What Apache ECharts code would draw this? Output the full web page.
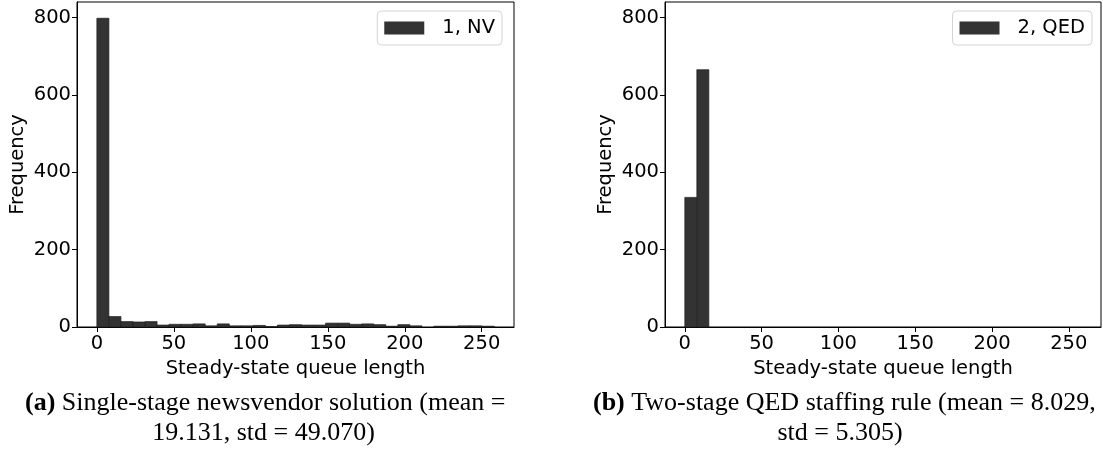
<!DOCTYPE html>
<html>
<head>
<meta charset="utf-8">
<script src="https://cdn.jsdelivr.net/npm/echarts@6/dist/echarts.min.js"></script>
<style>
  html, body { margin: 0; padding: 0; background: #fff; }
  #chart { width: 1103px; height: 457px; }
</style>
</head>
<body>
<div id="chart"></div>
<script>
// Shared histogram bins: 33 equal bins covering queue lengths 0..258
const binWidth = 7.82;
const binCount = 33;
const xTicks = [0, 50, 100, 150, 200, 250];
const yTicks = [0, 200, 400, 600, 800];

// Bin counts, single-stage newsvendor solution
const nvCounts = [798, 27, 14, 13, 14, 5, 7, 7, 8, 3, 8, 3, 3, 4, 1, 5, 6,
                  5, 5, 10, 10, 7, 8, 6, 2, 6, 3, 0, 2, 2, 3, 3, 2];
// Bin counts, two-stage QED staffing rule
const qedCounts = [335, 665];

const nvName = '1, NV';
const qedName = '2, QED';
const xTitle = 'Steady-state queue length';
const yTitle = 'Frequency';
const captionA1 = ['(a)', ' Single-stage newsvendor solution (mean ='];
const captionA2 = '19.131, std = 49.070)';
const captionB1 = ['(b)', ' Two-stage QED staffing rule (mean = 8.029,'];
const captionB2 = 'std = 5.305)';

const SANS = 'DejaVu Sans';
const SERIF = 'Liberation Serif';
const BAR = '#333333';

function toBins(counts) {
  return counts.map((c, i) => [i * binWidth, (i + 1) * binWidth, c]);
}

const xMax = binCount * binWidth;
const xPad = xMax * 0.05;

function renderBin(params, api) {
  const h = api.value(2);
  if (!h) return null;
  const tl = api.coord([api.value(0), h]);
  const br = api.coord([api.value(1), 0]);
  return {
    type: 'rect',
    shape: { x: tl[0], y: tl[1], width: br[0] - tl[0], height: br[1] - tl[1] },
    style: { fill: BAR, stroke: '#1e1e1e', lineWidth: 0.7 }
  };
}

function xAxisFor(idx) {
  return {
    type: 'value', gridIndex: idx,
    min: -xPad, max: xMax + xPad,
    name: xTitle, nameLocation: 'middle', nameGap: 27,
    nameTextStyle: { fontFamily: SANS, fontSize: 19.5, color: '#000' },
    axisLine: { show: true, onZero: false, lineStyle: { color: '#000', width: 1 } },
    axisTick: { show: true, length: 5, lineStyle: { color: '#000' }, customValues: xTicks },
    axisLabel: { fontFamily: SANS, fontSize: 19.5, color: '#000', margin: 7, customValues: xTicks },
    splitLine: { show: false }
  };
}

function yAxisFor(idx) {
  return {
    type: 'value', gridIndex: idx,
    min: 0, max: 840,
    name: yTitle, nameLocation: 'middle', nameGap: 49, nameRotate: 90,
    nameTextStyle: { fontFamily: SANS, fontSize: 19.5, color: '#000' },
    axisLine: { show: true, onZero: false, lineStyle: { color: '#000', width: 1 } },
    axisTick: { show: true, length: 5, lineStyle: { color: '#000' }, customValues: yTicks },
    axisLabel: { fontFamily: SANS, fontSize: 19.5, color: '#000', margin: 6, customValues: yTicks },
    splitLine: { show: false }
  };
}

function legendFor(name, right) {
  return {
    data: [{ name: name, icon: 'rect' }],
    right: right, top: 11,
    orient: 'vertical',
    itemWidth: 40, itemHeight: 13,
    padding: [7, 7, 7, 7],
    borderColor: '#d4d4d4', borderWidth: 1, borderRadius: 4,
    backgroundColor: '#fff',
    itemStyle: { color: BAR, borderWidth: 0 },
    textStyle: { fontFamily: SANS, fontSize: 19.5, color: '#000', padding: [0, 0, 0, 13] },
    selectedMode: false
  };
}

function captionLines(parts, second, x1, x2) {
  const rich = {
    b: { fontFamily: SERIF, fontSize: 26, fontWeight: 'bold', fill: '#000' },
    r: { fontFamily: SERIF, fontSize: 26, fill: '#000' }
  };
  return [
    {
      type: 'text', x: x1, y: 403,
      style: {
        text: '{b|' + parts[0] + '}{r|' + parts[1] + '}',
        rich: rich, fontFamily: SERIF, fontSize: 26, fill: '#000',
        align: 'left', verticalAlign: 'middle'
      }
    },
    {
      type: 'text', x: x2, y: 433,
      style: {
        text: second, fontFamily: SERIF, fontSize: 26, fill: '#000',
        align: 'center', verticalAlign: 'middle'
      }
    }
  ];
}

const chart = echarts.init(document.getElementById('chart'), null, { renderer: 'canvas' });
chart.setOption({
  animation: false,
  backgroundColor: '#fff',
  grid: [
    { left: 77, top: 2, width: 437, height: 325, show: true, borderColor: '#000', borderWidth: 1, backgroundColor: '#fff' },
    { left: 665, top: 2, width: 436, height: 325, show: true, borderColor: '#000', borderWidth: 1, backgroundColor: '#fff' }
  ],
  xAxis: [xAxisFor(0), xAxisFor(1)],
  yAxis: [yAxisFor(0), yAxisFor(1)],
  legend: [legendFor(nvName, 601), legendFor(qedName, 11)],
  series: [
    {
      name: nvName, type: 'custom', xAxisIndex: 0, yAxisIndex: 0,
      itemStyle: { color: BAR },
      renderItem: renderBin,
      encode: { x: [0, 1], y: 2 },
      data: toBins(nvCounts)
    },
    {
      name: qedName, type: 'custom', xAxisIndex: 1, yAxisIndex: 1,
      itemStyle: { color: BAR },
      renderItem: renderBin,
      encode: { x: [0, 1], y: 2 },
      data: toBins(qedCounts)
    }
  ],
  graphic: [
    ...captionLines(captionA1, captionA2, 25, 263.5),
    ...captionLines(captionB1, captionB2, 593, 840)
  ]
});
</script>
</body>
</html>
